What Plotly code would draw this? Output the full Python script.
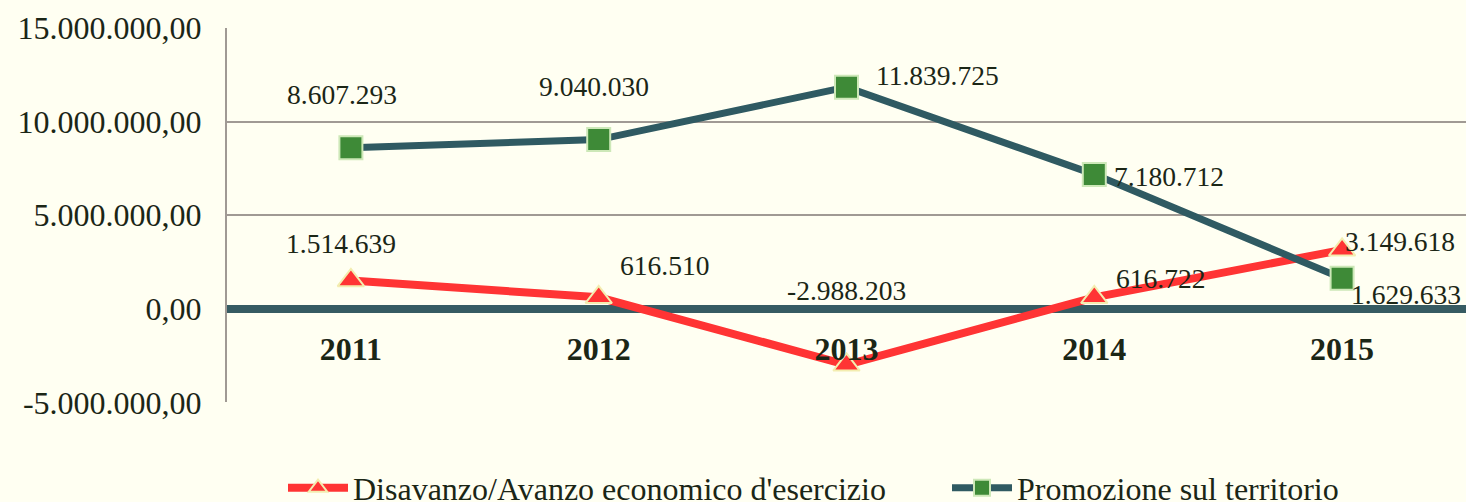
import plotly.graph_objects as go

years = ["2011", "2012", "2013", "2014", "2015"]
disavanzo = [1514639, 616510, -2988203, 616722, 3149618]
promozione = [8607293, 9040030, 11839725, 7180712, 1629633]
disavanzo_labels = ["1.514.639", "616.510", "-2.988.203", "616.722", "3.149.618"]
promozione_labels = ["8.607.293", "9.040.030", "11.839.725", "7.180.712", "1.629.633"]
y_tickvals = [-5000000, 0, 5000000, 10000000, 15000000]
y_ticktext = ["-5.000.000,00", "0,00", "5.000.000,00", "10.000.000,00", "15.000.000,00"]

# label offsets (px) for the data labels
dis_offsets = [(-10, 37), (66, 32), (0, 74), (66, 19), (58, 8)]
pro_offsets = [(-9, 53), (-5, 53), (91, 12), (75, -2), (64, -16)]

BG = "#FFFFF2"
TXT = "#1B2616"
RED = "#FF3434"
TEAL = "#2F5A62"
FONT = "Liberation Serif"

fig = go.Figure()
fig.add_trace(go.Scatter(
    x=years, y=disavanzo, mode="lines+markers",
    name="Disavanzo/Avanzo economico d'esercizio", legend="legend",
    line=dict(color=RED, width=8),
    marker=dict(symbol="triangle-up", size=23, color=RED,
                line=dict(color="#F3EDB0", width=2)),
))
fig.add_trace(go.Scatter(
    x=years, y=promozione, mode="lines+markers",
    name="Promozione sul territorio", legend="legend2",
    line=dict(color=TEAL, width=7),
    marker=dict(symbol="square", size=23, color="#3E8A37",
                line=dict(color="#CDE8B8", width=2)),
))
# invisible helper trace so the category labels axis (x2) is drawn at y = 0
fig.add_trace(go.Scatter(x=years, y=[0] * len(years), xaxis="x2", yaxis="y",
                         mode="markers", marker=dict(opacity=0),
                         showlegend=False, hoverinfo="skip"))

for i, yr in enumerate(years):
    fig.add_annotation(x=i, y=disavanzo[i], xref="x", yref="y", text=disavanzo_labels[i],
                       showarrow=False, xshift=dis_offsets[i][0], yshift=dis_offsets[i][1],
                       font=dict(family=FONT, size=27.5, color=TXT))
    fig.add_annotation(x=i, y=promozione[i], xref="x", yref="y", text=promozione_labels[i],
                       showarrow=False, xshift=pro_offsets[i][0], yshift=pro_offsets[i][1],
                       font=dict(family=FONT, size=27.5, color=TXT))

leg_common = dict(orientation="h", xref="container", yref="container",
                  xanchor="left", y=0.028, yanchor="middle",
                  font=dict(family=FONT, size=32, color=TXT),
                  bgcolor="rgba(0,0,0,0)", itemwidth=60)

fig.update_layout(
    width=1466, height=502,
    margin=dict(l=227, r=0, t=28, b=98),
    paper_bgcolor=BG, plot_bgcolor=BG,
    font=dict(family=FONT, color=TXT),
    showlegend=True,
    legend=dict(x=283 / 1466, **leg_common),
    legend2=dict(x=947 / 1466, **leg_common),
    xaxis=dict(type="category", range=[-0.5, 4.5],
               showgrid=False, showline=False, ticks="", zeroline=False,
               showticklabels=False),
    xaxis2=dict(type="category", range=[-0.5, 4.5], overlaying="x",
                anchor="free", position=0.25, side="bottom",
                showgrid=False, showline=False, ticks="", zeroline=False,
                tickfont=dict(family=FONT, size=32, color=TXT, weight="bold"),
                ticklabelstandoff=18),
    yaxis=dict(range=[-5000000, 15000000], tickvals=y_tickvals, ticktext=y_ticktext,
               showgrid=True, gridcolor="#A09A94", gridwidth=2,
               zeroline=True, zerolinecolor="#365B62", zerolinewidth=8,
               showline=True, linecolor="#A09A94", linewidth=2,
               ticks="", ticklabelstandoff=17,
               tickfont=dict(family=FONT, size=32, color=TXT)),
)

fig.write_html("out.html", config={"displayModeBar": False},
               post_script="document.body.style.margin='0';")
